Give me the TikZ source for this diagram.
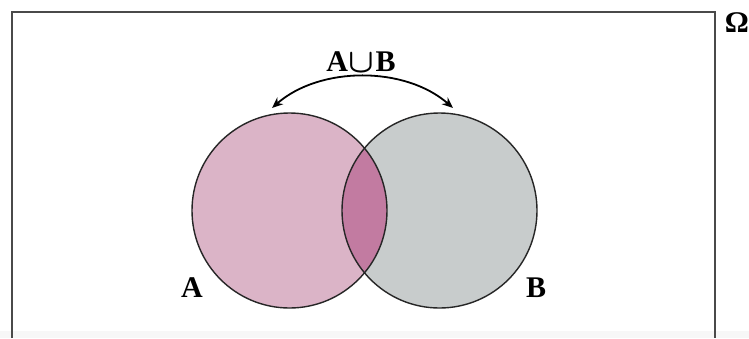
\documentclass[tikz,border=0pt]{standalone}
\usepackage{amsmath}
\usepackage{fontspec}
\setmainfont{Liberation Serif}
\usetikzlibrary{arrows.meta}
\definecolor{pinkA}{HTML}{DBB4C7}
\definecolor{grayB}{HTML}{C8CCCC}
\definecolor{lens}{HTML}{C27BA1}
\definecolor{frame}{HTML}{4A4A4A}
\tikzset{
  lbl/.style={font=\fontsize{30}{34}\selectfont\bfseries, inner sep=0pt},
  setline/.style={draw=black!85, line width=1.4pt},
  framestyle/.style={draw=frame, line width=1.8pt},
}
\begin{document}
\begin{tikzpicture}[x=1pt,y=-1pt]
\useasboundingbox (0,0) rectangle (749,338);
\fill[white] (0,0) rectangle (749,338);
\fill[black!3] (0,331) rectangle (749,338);
% frame
\coordinate (fBL) at (12,338);
\coordinate (fTL) at (12,12);
\coordinate (fTR) at (715,12);
\coordinate (fBR) at (715,338);
\draw[framestyle] (fBL) -- (fTL) -- (fTR) -- (fBR);
% circles
\coordinate (cA) at (289.5,210.5);
\coordinate (cB) at (439.5,210.5);
\fill[pinkA] (cA) circle (97.5);
\fill[grayB] (cB) circle (97.5);
\begin{scope}
  \clip (cA) circle (97.5);
  \fill[lens] (cB) circle (97.5);
\end{scope}
\draw[setline] (cA) circle (97.5);
\draw[setline] (cB) circle (97.5);
% labels
\node[lbl] (labA) at (192,288) {A};
\node[lbl] (labB) at (536,288) {B};
\node[lbl] (union) at (361,62) {A\kern1pt\raisebox{-1pt}{\scalebox{1.35}{$\boldsymbol{\cup}$}}\kern1ptB};
\node[lbl] (omega) at (737,23) {Ω};
% arrow
\coordinate (aL) at (272,108);
\coordinate (aR) at (453,108);
\draw[line width=1.8pt, {Stealth[length=11pt,width=9pt]}-{Stealth[length=11pt,width=9pt]}]
  (aL) .. controls (320,66) and (405,66) .. (aR);
\end{tikzpicture}
\end{document}
